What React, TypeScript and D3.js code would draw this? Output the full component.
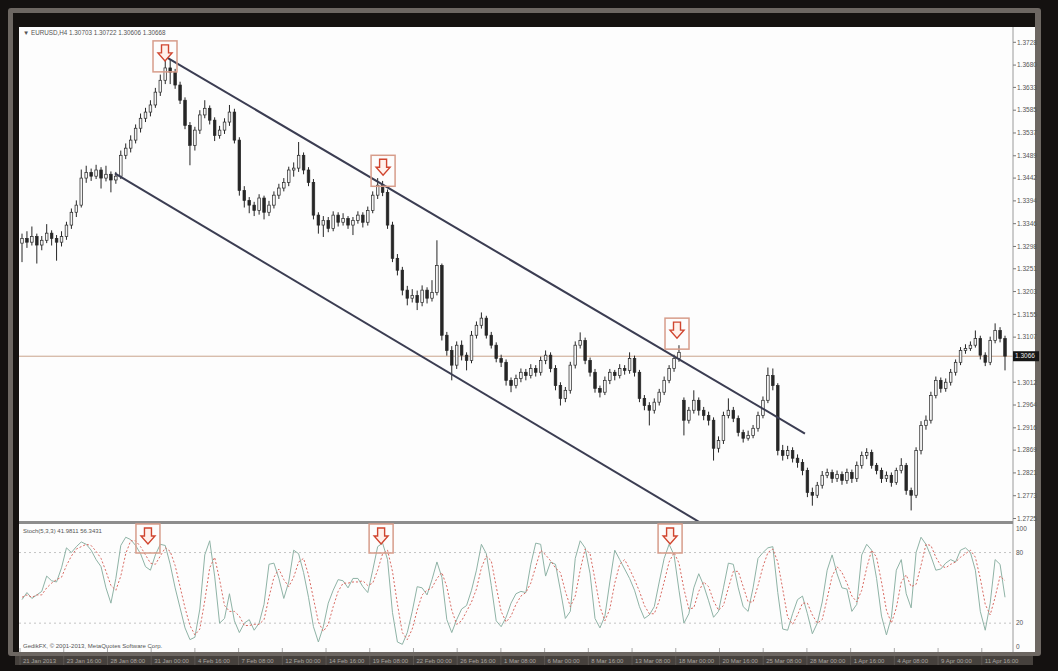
import React from 'react';
import * as d3 from 'd3';

// EURUSD H4 candles: [open, high, low, close] in 1/10000 units
const candles: [number, number, number, number][] = [
  [13305,13325,13265,13315],[13315,13330,13295,13307],[13307,13340,13300,13319],[13319,13325,13262,13301],[13301,13320,13290,13311],
  [13311,13345,13305,13326],[13326,13332,13300,13315],[13315,13322,13268,13307],[13307,13330,13298,13319],[13319,13350,13312,13343],
  [13343,13378,13335,13370],[13370,13395,13360,13385],[13385,13460,13380,13442],[13442,13468,13432,13454],[13454,13462,13436,13446],
  [13446,13470,13440,13459],[13459,13465,13420,13442],[13442,13468,13435,13450],[13450,13456,13412,13438],[13438,13455,13430,13446],
  [13446,13500,13440,13490],[13490,13515,13482,13505],[13505,13532,13496,13522],[13522,13555,13515,13547],[13547,13578,13538,13568],
  [13568,13590,13560,13581],[13581,13606,13572,13596],[13596,13632,13590,13623],[13623,13660,13615,13648],[13648,13707,13640,13674],
  [13674,13691,13640,13665],[13665,13672,13630,13638],[13638,13645,13598,13606],[13606,13612,13545,13553],[13553,13560,13469,13511],
  [13511,13550,13500,13543],[13543,13585,13535,13575],[13575,13606,13568,13589],[13589,13595,13555,13564],[13564,13570,13520,13532],
  [13532,13552,13525,13543],[13543,13568,13535,13560],[13560,13596,13552,13581],[13581,13588,13515,13522],[13522,13528,13405,13416],
  [13416,13425,13380,13395],[13395,13402,13368,13385],[13385,13392,13362,13374],[13374,13408,13365,13400],[13400,13405,13355,13370],
  [13370,13394,13362,13385],[13385,13414,13378,13406],[13406,13430,13398,13421],[13421,13442,13414,13433],[13433,13466,13425,13459],
  [13459,13475,13445,13463],[13463,13518,13455,13490],[13490,13496,13450,13459],[13459,13465,13425,13433],[13433,13440,13355,13364],
  [13364,13370,13325,13343],[13343,13362,13318,13353],[13353,13360,13328,13336],[13336,13372,13330,13364],[13364,13370,13340,13349],
  [13349,13368,13342,13357],[13357,13362,13335,13343],[13343,13360,13322,13353],[13353,13372,13346,13364],[13364,13370,13338,13349],
  [13349,13382,13342,13374],[13374,13414,13368,13406],[13406,13442,13398,13427],[13427,13436,13404,13412],[13412,13418,13335,13343],
  [13343,13350,13265,13273],[13273,13282,13237,13248],[13248,13255,13195,13206],[13206,13215,13174,13189],[13189,13208,13180,13195],
  [13195,13205,13164,13180],[13180,13216,13172,13206],[13206,13212,13178,13189],[13189,13227,13182,13201],[13201,13311,13195,13258],
  [13258,13262,13100,13111],[13111,13118,13068,13079],[13079,13088,13016,13048],[13048,13098,13040,13090],[13090,13100,13058,13069],
  [13069,13075,13037,13058],[13058,13120,13052,13111],[13111,13140,13104,13132],[13132,13159,13125,13147],[13147,13152,13104,13111],
  [13111,13118,13083,13090],[13090,13096,13054,13062],[13062,13070,13044,13054],[13054,13060,13005,13016],[13016,13022,12991,13005],
  [13005,13028,12999,13020],[13020,13041,13012,13033],[13033,13040,13016,13026],[13026,13050,13020,13041],[13041,13048,13024,13033],
  [13033,13066,13026,13058],[13058,13079,13050,13069],[13069,13075,13033,13041],[13041,13048,12995,13005],[13005,13012,12963,12978],
  [12978,13002,12970,12995],[12995,13055,12988,13048],[13048,13098,13041,13090],[13090,13117,13083,13100],[13100,13106,13050,13058],
  [13058,13064,13024,13033],[13033,13040,12990,12999],[12999,13005,12980,12991],[12991,13024,12985,13016],[13016,13040,13008,13033],
  [13033,13038,13016,13026],[13026,13050,13020,13041],[13041,13048,13028,13037],[13037,13075,13030,13062],[13062,13068,13024,13033],
  [13033,13038,12970,12978],[12978,12985,12953,12963],[12963,12970,12921,12953],[12953,12978,12946,12970],[12970,12998,12963,12991],
  [12991,13024,12985,13016],[13016,13048,13010,13041],[13041,13070,13034,13062],[13062,13090,13055,13075],[12974,12980,12900,12932],
  [12932,12960,12925,12953],[12953,12995,12946,12974],[12974,12980,12942,12953],[12953,12960,12932,12942],[12942,12950,12921,12932],
  [12932,12938,12847,12873],[12873,12898,12864,12889],[12889,12950,12882,12942],[12942,12978,12936,12953],[12953,12960,12928,12936],
  [12936,12942,12898,12906],[12906,12912,12885,12894],[12894,12910,12889,12900],[12900,12922,12894,12915],[12915,12950,12908,12942],
  [12942,12982,12936,12974],[12974,13043,12968,13026],[13026,13041,12995,13005],[13005,13010,12858,12868],[12868,12880,12847,12858],
  [12858,12878,12850,12868],[12868,12875,12843,12852],[12852,12860,12832,12843],[12843,12850,12816,12826],[12826,12832,12770,12780],
  [12780,12790,12752,12774],[12774,12802,12768,12795],[12795,12825,12788,12816],[12816,12830,12810,12822],[12822,12828,12800,12809],
  [12809,12826,12802,12818],[12818,12824,12796,12805],[12805,12830,12798,12822],[12822,12828,12800,12809],[12809,12845,12802,12837],
  [12837,12866,12830,12858],[12858,12873,12850,12864],[12864,12870,12830,12837],[12837,12842,12818,12826],[12826,12832,12800,12809],
  [12809,12824,12802,12816],[12816,12822,12792,12801],[12801,12832,12796,12826],[12826,12852,12820,12837],[12837,12842,12775,12784],
  [12784,12790,12742,12774],[12774,12875,12768,12868],[12868,12930,12860,12921],[12921,12942,12912,12932],[12932,12992,12925,12984],
  [12984,13024,12978,13016],[13016,13022,12990,12999],[12999,13020,12992,13012],[13012,13040,13005,13033],[13033,13060,13026,13054],
  [13054,13086,13048,13079],[13079,13092,13072,13083],[13083,13098,13078,13090],[13090,13121,13085,13104],[13104,13110,13060,13069],
  [13069,13075,13046,13054],[13054,13108,13048,13100],[13100,13136,13094,13121],[13121,13128,13096,13104],[13104,13110,13037,13067],
];

// Stochastic (5,3,3) main line (%K) and signal line (%D), one value per bar
const stochK = [
  40,46,41,44,47,60,56,55,67,84, 80,85,89,87,82,74,68,50,37,58,
  86,93,91,86,79,68,65,78,87,86, 70,50,33,16,6,8,32,78,90,60,
  20,24,45,22,12,20,23,14,20,36, 70,71,58,41,55,82,79,63,42,17,
  4,17,37,48,57,56,50,58,58,51, 46,65,85,88,74,29,4,2,12,30,
  51,50,44,57,72,59,23,12,23,32, 35,48,65,87,79,52,22,17,25,37,
  45,47,46,70,88,87,60,72,70,48, 24,30,75,90,84,62,24,16,26,55,
  82,74,66,58,48,34,24,27,34,55, 75,87,78,48,20,28,50,62,52,39,
  25,30,50,71,70,50,34,30,50,75, 80,84,85,46,15,14,28,40,43,28,
  11,20,38,65,78,62,50,49,30,36, 78,87,82,58,26,10,25,65,74,45,
  33,80,93,87,77,65,66,71,74,72, 82,84,80,65,30,14,37,74,70,42,
];
const stochD = [
  42,44,42,44,44,50,54,57,59,69, 77,83,85,87,86,81,75,64,52,48,
  60,79,90,90,85,78,71,70,77,84, 81,69,51,33,18,10,15,39,67,76,
  57,35,30,30,26,18,18,19,19,23, 42,59,66,57,51,59,72,75,61,41,
  21,13,19,34,47,54,54,55,55,56, 52,54,65,79,82,64,36,12,6,15,
  31,44,48,50,58,63,51,31,19,22, 30,38,49,67,77,73,51,30,21,26,
  36,43,46,54,68,82,78,73,67,63, 47,34,43,65,83,79,57,34,22,32,
  54,70,74,66,57,47,35,28,28,39, 55,72,80,71,49,32,33,47,55,51,
  39,31,35,50,64,64,51,38,38,52, 68,80,83,72,49,25,19,27,37,37,
  27,20,23,41,60,68,63,54,43,38, 48,67,82,76,55,31,20,33,55,61,
  51,53,69,87,86,76,69,67,70,72, 76,79,82,76,58,36,27,42,60,56,
];

const priceTicks = ['1.3728','1.3680','1.3633','1.3585','1.3537','1.3489','1.3442','1.3394','1.3346','1.3298','1.3251',
  '1.3203','1.3155','1.3107','1.3012','1.2964','1.2916','1.2869','1.2821','1.2773','1.2725'];
const stochTicks = [100, 80, 20, 0];
const stochLevels = [80, 20];
const timeLabels = ['21 Jan 2013','23 Jan 16:00','28 Jan 08:00','31 Jan 00:00','4 Feb 16:00','7 Feb 08:00','12 Feb 00:00',
  '14 Feb 16:00','19 Feb 08:00','22 Feb 00:00','26 Feb 16:00','1 Mar 08:00','6 Mar 00:00','8 Mar 16:00','13 Mar 08:00',
  '18 Mar 00:00','20 Mar 16:00','25 Mar 08:00','28 Mar 00:00','1 Apr 16:00','4 Apr 08:00','9 Apr 00:00','11 Apr 16:00'];

// Channel trend lines: [bar index, price]
const channelUpper: [number, number][] = [[29.2, 1.3697], [158.5, 1.2904]];
const channelLower: [number, number][] = [[18.8, 1.3452], [137.2, 1.2717]];

// Sell signal markers: bar index, price at box top
const priceSignals: [number, number][] = [[28.95, 1.3731], [73.1, 1.3490], [132.6, 1.3147]];
const stochSignals = [25.5, 72.7, 131.2];

const bidPrice = 1.30668;
const bidLabel = '1.3066';
const titleText = '▼ EURUSD,H4  1.30703 1.30722 1.30606 1.30668';
const stochText = 'Stoch(5,3,3) 41.9811 56.3431';
const copyText = 'GedikFX, © 2001-2013, MetaQuotes Software Corp.';

const FONT = '"Liberation Sans", Arial, sans-serif';

export default function App() {
  const N = candles.length;
  const x = d3.scaleLinear().domain([0, N - 1]).range([22, 1005]);
  const y = d3.scaleLinear().domain([1.2725, 1.3728]).range([518.5, 42.3]);
  const ys = d3.scaleLinear().domain([0, 100]).range([646.7, 529]);
  const P = (v: number) => v / 10000;

  const kLine = d3.line<number>().x((_, i) => x(i)).y((d) => ys(d));
  const dLine = d3.line<number>().x((_, i) => x(i)).y((d) => ys(d));
  const tl = d3.line<[number, number]>().x((d) => x(d[0])).y((d) => y(d[1]));

  const labelStep = 8.85;
  const arrowPath = (cx: number, ty: number) =>
    `M${cx - 3.5},${ty + 4} H${cx + 3.5} V${ty + 12} H${cx + 7} L${cx},${ty + 20} L${cx - 7},${ty + 12} H${cx - 3.5} Z`;

  return (
    <svg width={1058} height={671} style={{ position: 'absolute', left: 0, top: 0, display: 'block' }} fontFamily={FONT}>
      <defs>
        <clipPath id="mainClip"><rect x={19} y={27} width={994} height={494} /></clipPath>
        <clipPath id="stochClip"><rect x={19} y={524} width={994} height={127} /></clipPath>
      </defs>
      <rect x={0} y={0} width={1058} height={671} fill="#141110" />
      <rect x={8} y={8} width={1033} height={648} rx={3} fill="#6d6762" />
      <rect x={13} y={13} width={1022} height={639} fill="#151210" />
      <rect x={19} y={27} width={1016} height={625} fill="#fdfdfd" />
      <rect x={15} y={656} width={1018} height={9} fill="#46413d" />

      {/* bid line */}
      <line x1={19} x2={1013} y1={y(bidPrice)} y2={y(bidPrice)} stroke="#c9a48c" strokeWidth={1} />

      {/* candles */}
      <g clipPath="url(#mainClip)">
        {candles.map((c, i) => {
          const [o, h, l, cl] = c;
          const cx = x(i);
          const top = y(P(Math.max(o, cl)));
          const bot = y(P(Math.min(o, cl)));
          const bull = cl >= o;
          return (
            <g key={i}>
              <line x1={cx} x2={cx} y1={y(P(h))} y2={y(P(l))} stroke="#262626" strokeWidth={1} />
              <rect x={cx - 1.3} y={top} width={2.6} height={Math.max(1, bot - top)}
                fill={bull ? '#f4f4f4' : '#262626'} stroke="#262626" strokeWidth={0.7} />
            </g>
          );
        })}
        <path d={tl(channelUpper) || ''} stroke="#3b3d52" strokeWidth={2} fill="none" />
        <path d={tl(channelLower) || ''} stroke="#3b3d52" strokeWidth={2} fill="none" />
      </g>

      {/* signal markers on price */}
      {priceSignals.map(([b, p], i) => {
        const cx = x(b);
        const ty = y(p);
        return (
          <g key={'ps' + i}>
            <rect x={cx - 12} y={ty} width={24} height={31} fill="none" stroke="#d79d8b" strokeWidth={1.5} />
            <path d={arrowPath(cx, ty)} fill="#fff1ec" stroke="#d0452f" strokeWidth={1.4} />
          </g>
        );
      })}

      {/* title */}
      <text x={23} y={35} fontSize={6.3} fill="#555">{titleText}</text>

      {/* price axis */}
      <line x1={1013} x2={1013} y1={27} y2={652} stroke="#9a9a9a" strokeWidth={1} />
      {priceTicks.map((t) => (
        <g key={t}>
          <line x1={1013} x2={1016} y1={y(+t)} y2={y(+t)} stroke="#777" />
          <text x={1017} y={y(+t)} dy="0.35em" fontSize={6.5} fill="#555">{t}</text>
        </g>
      ))}
      <rect x={1013} y={y(bidPrice) - 5} width={26} height={10} fill="#151515" />
      <text x={1015} y={y(bidPrice)} dy="0.35em" fontSize={6.5} fill="#e8e8e8">{bidLabel}</text>

      {/* pane separator */}
      <rect x={19} y={521} width={994} height={3} fill="#8d8d8d" />

      {/* stochastic pane */}
      {stochLevels.map((lv) => (
        <line key={lv} x1={19} x2={1013} y1={ys(lv)} y2={ys(lv)} stroke="#b5b5b5" strokeWidth={0.8} strokeDasharray="2,3" />
      ))}
      <g clipPath="url(#stochClip)">
        <path d={kLine(stochK) || ''} fill="none" stroke="#8fb3a6" strokeWidth={1} />
        <path d={dLine(stochD) || ''} fill="none" stroke="#d86a62" strokeWidth={1} strokeDasharray="2,2" />
      </g>
      {stochTicks.map((t) => (
        <text key={t} x={1016} y={ys(t)} dy="0.35em" fontSize={6.5} fill="#555">{t}</text>
      ))}
      {stochSignals.map((b, i) => {
        const cx = x(b);
        const ty = 524;
        return (
          <g key={'ss' + i}>
            <rect x={cx - 12} y={ty} width={24} height={29} fill="none" stroke="#d79d8b" strokeWidth={1.5} />
            <path d={arrowPath(cx, ty)} fill="#fff1ec" stroke="#d0452f" strokeWidth={1.4} />
          </g>
        );
      })}
      <text x={23} y={533} fontSize={6} fill="#555">{stochText}</text>
      <text x={23} y={648} fontSize={6} fill="#555">{copyText}</text>

      {/* time axis */}
      {timeLabels.map((t, k) => {
        const tx = x(k * labelStep - 0.4);
        return (
          <g key={t}>
            <line x1={tx} x2={tx} y1={648} y2={652} stroke="#aaa" />
            <line x1={tx} x2={tx} y1={656} y2={665} stroke="#5c5753" />
            <text x={tx + 3} y={663} fontSize={6} fill="#aaa5a0">{t}</text>
          </g>
        );
      })}
    </svg>
  );
}
